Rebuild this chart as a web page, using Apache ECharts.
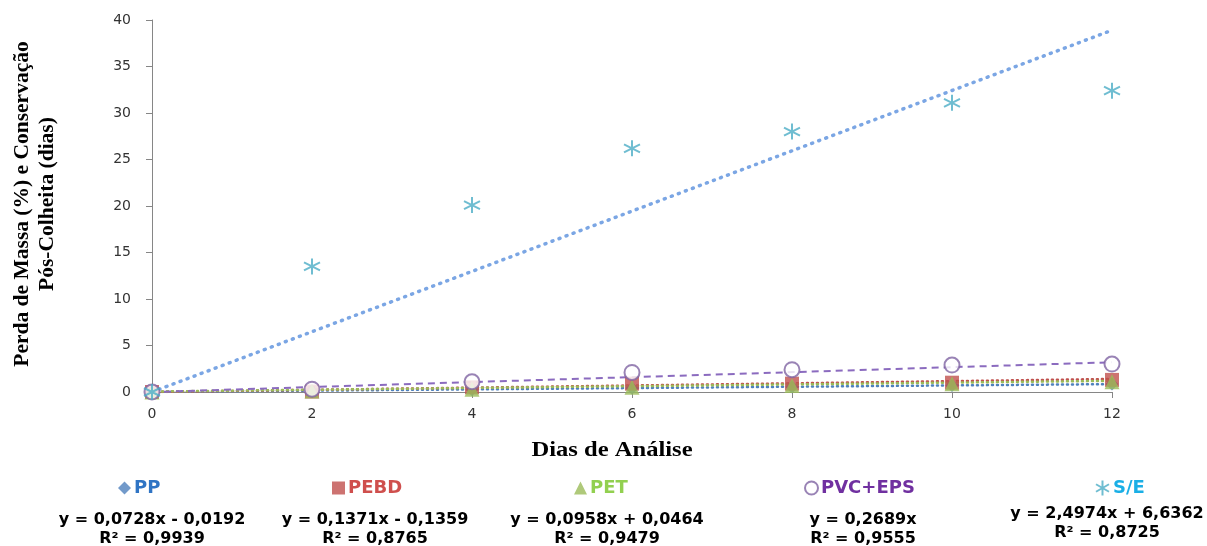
<!DOCTYPE html>
<html><head><meta charset="utf-8">
<script src="https://cdn.jsdelivr.net/npm/echarts@6/dist/echarts.min.js"></script>
<style>html,body{margin:0;padding:0;background:#fff}#c{width:1207px;height:546px}</style>
</head><body><div id="c"></div>
<script>
const days = [0, 2, 4, 6, 8, 10, 12];
const pp   = [0, 0.1, 0.25, 0.4, 0.55, 0.7, 0.85];
const pebd = [0, 0.05, 0.5, 0.9, 0.9, 1.0, 1.3];
const pet  = [0, 0.1, 0.3, 0.5, 0.7, 0.9, 1.1];
const pvc  = [0, 0.3, 1.1, 2.1, 2.4, 2.9, 3.0];
const se   = [0, 13.5, 20.1, 26.2, 28.0, 31.1, 32.4];
const trendX    = [0, 12];
const ppTrend   = [0, 0.85];
const pebdTrend = [0, 1.4];
const petTrend  = [0.05, 1.2];
const pvcTrend  = [0, 3.2];
const seTrend   = [0, 38.9];
const names = ['PP', 'PEBD', 'PET', 'PVC+EPS', 'S/E'];
const equations = [
  'y = 0,0728x - 0,0192\nR² = 0,9939',
  'y = 0,1371x - 0,1359\nR² = 0,8765',
  'y = 0,0958x + 0,0464\nR² = 0,9479',
  'y = 0,2689x\nR² = 0,9555',
  'y = 2,4974x + 6,6362\nR² = 0,8725'
];
const yTicks = [0, 40, 5];
const xTicks = [0, 12, 2];

const pair = (xs, ys) => xs.map((x, i) => [x, ys[i]]);
const markColors = ['#4f81bd', '#c0504d', '#9bbb59', '#8064a2', '#4bacc6'];
const textColors = ['#2f74c4', '#cf4f4d', '#92d050', '#7030a0', '#1aafe6'];
const symbols = ['diamond', 'rect', 'triangle', 'emptyCircle',
  'path://M0,-1L0,1M-0.866,-0.5L0.866,0.5M-0.866,0.5L0.866,-0.5'];
const sizes = [13, 14, 15, 15, 16];
const seriesVals = [pp, pebd, pet, pvc, se];
const trends = [ppTrend, pebdTrend, petTrend, pvcTrend, seTrend];
const trendStyles = [
  {color: '#4f81bd', width: 2.5, type: [1, 4], cap: 'round'},
  {color: '#c0504d', width: 2.5, type: [1, 4], cap: 'round'},
  {color: '#9bbb59', width: 2.5, type: [1, 4], cap: 'round'},
  {color: '#8b6bbf', width: 2, type: [7, 5]},
  {color: '#7ba6e4', width: 3.5, type: [1, 6.5], cap: 'round'}
];

const series = [];
trends.forEach((t, i) => {
  series.push({
    type: 'line', name: names[i] + ' trend', data: pair(trendX, t),
    showSymbol: false, silent: true, lineStyle: trendStyles[i], z: 1
  });
});
seriesVals.forEach((v, i) => {
  const st = i === 4
    ? {color: 'rgba(0,0,0,0)', borderColor: markColors[i], borderWidth: 2}
    : (i === 3 ? {color: markColors[i], borderWidth: 1.6} : {color: markColors[i]});
  series.push({
    type: 'scatter', name: names[i], data: pair(days, v),
    symbol: symbols[i], symbolSize: sizes[i], itemStyle: st, z: 3
  });
});

const legendLeft = [113, 327, 569, 799, 1090];
const legends = names.map((n, i) => ({
  data: [n], left: legendLeft[i], top: 474, itemWidth: i === 4 ? 15 : 13, itemHeight: i === 4 ? 15 : 13,
  itemGap: 0, selectedMode: false,
  textStyle: {color: textColors[i], fontFamily: 'DejaVu Sans', fontWeight: 'bold', fontSize: 18, padding: [0, 0, 0, -2]}
}));

const eqPos = [[152, 519], [375, 519], [607, 519], [863, 519], [1107, 513]];
const gEls = [];
equations.forEach((e, i) => {
  gEls.push({
    type: 'text', x: eqPos[i][0], y: eqPos[i][1] - 9,
    style: {text: e, align: 'center', verticalAlign: 'top', fontFamily: 'DejaVu Sans',
      fontWeight: 'bold', fontSize: 16, fill: '#000', lineHeight: 19}
  });
});
gEls.push({
  type: 'text', x: 612, y: 451, scaleX: 1.17,
  style: {text: 'Dias de Análise', align: 'center', verticalAlign: 'middle',
    fontFamily: 'Liberation Serif', fontWeight: 'bold', fontSize: 21, fill: '#000'}
});
gEls.push({
  type: 'text', x: 35, y: 204, rotation: Math.PI / 2,
  style: {text: 'Perda de Massa (%) e Conservação\nPós-Colheita (dias)', align: 'center', verticalAlign: 'middle',
    fontFamily: 'Liberation Serif', fontWeight: 'bold', fontSize: 21.5, fill: '#000', lineHeight: 25}
});

const axisCommon = {
  axisLine: {show: true, lineStyle: {color: '#868686', width: 1}},
  axisTick: {show: true, length: 6, lineStyle: {color: '#868686'}},
  splitLine: {show: false},
  axisLabel: {color: '#333', fontFamily: 'DejaVu Sans', fontSize: 14}
};

const chart = echarts.init(document.getElementById('c'), null, {renderer: 'canvas'});
chart.setOption({
  animation: false,
  backgroundColor: '#fff',
  grid: {left: 152, right: 95, top: 20, bottom: 154},
  xAxis: Object.assign({type: 'value', min: xTicks[0], max: xTicks[1], interval: xTicks[2]}, axisCommon,
    {axisLabel: Object.assign({}, axisCommon.axisLabel, {margin: 15})}),
  yAxis: Object.assign({type: 'value', min: yTicks[0], max: yTicks[1], interval: yTicks[2]}, axisCommon,
    {axisLabel: Object.assign({}, axisCommon.axisLabel, {margin: 21})}),
  legend: legends,
  series: series,
  graphic: gEls
});
</script></body></html>
